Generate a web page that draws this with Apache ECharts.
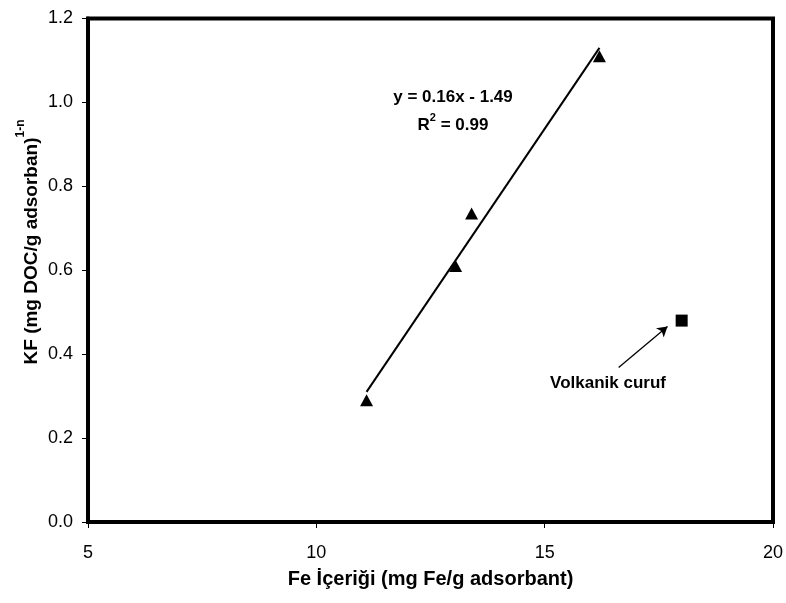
<!DOCTYPE html>
<html>
<head>
<meta charset="utf-8">
<script src="https://cdn.jsdelivr.net/npm/echarts@6/dist/echarts.min.js"></script>
<style>html,body{margin:0;padding:0;background:#fff}#c{width:786px;height:603px}</style>
</head>
<body>
<div id="c"></div>
<script>
const feX = [11.1, 13.05, 13.4, 16.2];
const kfY = [0.29, 0.61, 0.735, 1.11];
const slagX = [18.0];
const slagY = [0.48];
const trendX = [11.1, 16.2];
const trendY = [0.31, 1.13];
const arrowFrom = [16.62, 0.368];
const arrowTo = [17.69, 0.466];
const xTicks = [5, 10, 15, 20];
const yTicks = [0.0, 0.2, 0.4, 0.6, 0.8, 1.0, 1.2];

const chart = echarts.init(document.getElementById('c'), null, {renderer: 'canvas'});
const FF = '"Liberation Sans", Arial, sans-serif';
chart.setOption({
  animation: false,
  backgroundColor: '#fff',
  grid: {left: 88, right: 10.5, top: 18.5, bottom: 81, show: true, borderColor: '#000', borderWidth: 4, backgroundColor: 'transparent'},
  xAxis: {
    type: 'value', min: xTicks[0], max: xTicks[xTicks.length - 1], interval: 5,
    axisLine: {show: true, lineStyle: {color: '#000', width: 4}},
    axisTick: {show: true, inside: false, length: 6, lineStyle: {color: '#000', width: 1}},
    axisLabel: {color: '#000', fontSize: 18, fontFamily: FF, margin: 22},
    splitLine: {show: false},
    name: 'Fe İçeriği (mg Fe/g adsorbant)', nameLocation: 'middle', nameGap: 47,
    nameTextStyle: {color: '#000', fontSize: 20, fontWeight: 'bold', fontFamily: FF}
  },
  yAxis: {
    type: 'value', min: 0, max: yTicks[yTicks.length - 1], interval: 0.2,
    axisLine: {show: true, lineStyle: {color: '#000', width: 4}},
    axisTick: {show: true, inside: false, length: 6, lineStyle: {color: '#000', width: 1}},
    axisLabel: {color: '#000', fontSize: 18, fontFamily: FF, margin: 15, formatter: v => v.toFixed(1)},
    splitLine: {show: false}
  },
  series: [
    {
      type: 'line', data: trendX.map((x, i) => [x, trendY[i]]), showSymbol: false, symbol: 'none',
      lineStyle: {color: '#000', width: 2}, z: 2
    },
    {
      type: 'scatter', data: feX.map((x, i) => [x, kfY[i]]), symbol: 'triangle', symbolSize: [13, 12],
      itemStyle: {color: '#000', opacity: 1}, z: 3
    },
    {
      type: 'scatter', data: slagX.map((x, i) => [x, slagY[i]]), symbol: 'rect', symbolSize: 12,
      itemStyle: {color: '#000', opacity: 1}, z: 3,
      markLine: {
        silent: true, symbol: ['none', 'arrow'], symbolSize: [9, 10],
        lineStyle: {color: '#000', width: 1.3, type: 'solid', opacity: 1}, label: {show: false},
        data: [[{coord: arrowFrom}, {coord: arrowTo}]]
      }
    }
  ],
  graphic: [
    {type: 'text', x: 28, y: 242, rotation: Math.PI / 2, style: {
      text: '{a|KF (mg DOC/g adsorban)}{s|1-n}', align: 'center', verticalAlign: 'middle', fill: '#000',
      rich: {
        a: {fontSize: 19, fontWeight: 'bold', fontFamily: FF, fill: '#000', lineHeight: 26, verticalAlign: 'bottom'},
        s: {fontSize: 12, fontWeight: 'bold', fontFamily: FF, fill: '#000', lineHeight: 26, verticalAlign: 'top'}
      }
    }},
    {type: 'text', x: 453, y: 97, style: {text: 'y = 0.16x - 1.49', align: 'center', verticalAlign: 'middle', font: 'bold 17px ' + FF, fill: '#000'}},
    {type: 'text', x: 453, y: 123, style: {
      text: '{a|R}{s|2}{a| = 0.99}', align: 'center', verticalAlign: 'middle', fill: '#000',
      rich: {
        a: {fontSize: 17, fontWeight: 'bold', fontFamily: FF, fill: '#000', lineHeight: 22, verticalAlign: 'bottom'},
        s: {fontSize: 11, fontWeight: 'bold', fontFamily: FF, fill: '#000', lineHeight: 22, verticalAlign: 'top'}
      }
    }},
    {type: 'text', x: 608, y: 383, style: {text: 'Volkanik curuf', align: 'center', verticalAlign: 'middle', font: 'bold 17px ' + FF, fill: '#000'}}
  ]
});
</script>
</body>
</html>
